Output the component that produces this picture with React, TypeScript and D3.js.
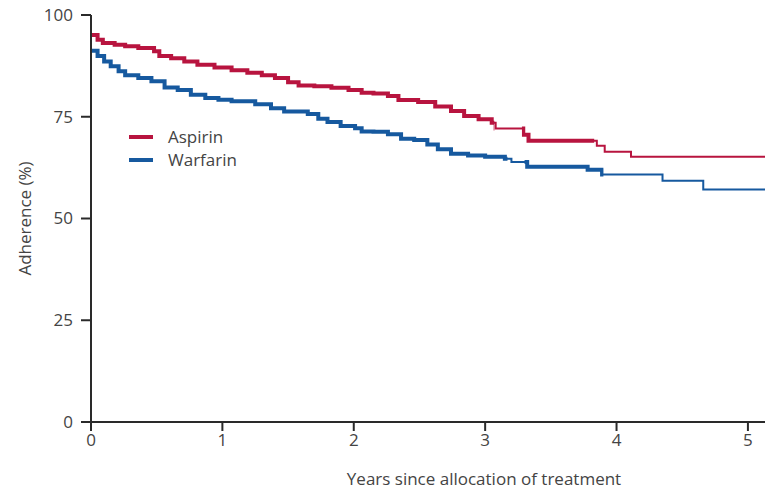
import React from "react";
import * as d3 from "d3";

// Kaplan–Meier style adherence curves (step-after), years vs %
const aspirinTimes = [0, 0.05, 0.09, 0.18, 0.26, 0.36, 0.48, 0.52, 0.61, 0.71, 0.81, 0.94, 1.07, 1.19, 1.3, 1.4, 1.5, 1.58, 1.7, 1.83, 1.96, 2.06, 2.15, 2.26, 2.34, 2.49, 2.62, 2.74, 2.84, 2.95, 3.05, 3.08, 3.29, 3.33, 3.85, 3.91, 4.11];
const aspirinValues = [95.1, 93.9, 93.1, 92.7, 92.3, 91.9, 91.1, 89.9, 89.4, 88.6, 87.8, 87.1, 86.4, 85.8, 85.2, 84.5, 83.5, 82.7, 82.5, 82.1, 81.6, 80.9, 80.7, 80.1, 79.1, 78.6, 77.5, 76.4, 75.2, 74.4, 73.5, 72.1, 70.6, 69.1, 67.9, 66.4, 65.2];

const warfarinTimes = [0, 0.05, 0.1, 0.15, 0.21, 0.26, 0.36, 0.46, 0.56, 0.66, 0.76, 0.87, 0.97, 1.07, 1.25, 1.37, 1.47, 1.65, 1.73, 1.8, 1.9, 2.01, 2.06, 2.15, 2.26, 2.36, 2.46, 2.56, 2.64, 2.74, 2.87, 3.0, 3.15, 3.2, 3.32, 3.78, 3.89, 4.35, 4.66];
const warfarinValues = [91.2, 89.9, 88.6, 87.4, 86.2, 85.2, 84.5, 83.7, 82.2, 81.6, 80.4, 79.6, 79.2, 78.8, 78.1, 77.1, 76.3, 75.7, 74.5, 73.7, 72.7, 72.2, 71.4, 71.3, 70.7, 69.6, 69.3, 68.2, 67.0, 65.9, 65.5, 65.2, 64.7, 63.9, 62.7, 62.0, 60.8, 59.3, 57.1];

const xTicks = [0, 1, 2, 3, 4, 5];
const yTicks = [0, 25, 50, 75, 100];
const seriesNames = ["Aspirin", "Warfarin"];

// Periods where censoring marks crowd the curve, drawn heavier
const aspirinDense: [number, number][] = [[0, 3.07], [3.28, 3.83]];
const warfarinDense: [number, number][] = [[0, 3.17], [3.3, 3.9]];

const RED = "#b8143f";
const BLUE = "#16599f";
const FONT = "'Open Sans', 'Noto Sans', sans-serif";

const W = 765;
const H = 491;
const X_MAX = 5.13;

export default function App() {
  const x = d3.scaleLinear().domain([0, X_MAX]).range([91, 765]);
  const y = d3.scaleLinear().domain([0, 100]).range([422, 15]);

  const line = d3
    .line<[number, number]>()
    .x((d) => x(d[0]))
    .y((d) => y(d[1]))
    .curve(d3.curveStepAfter);

  const build = (ts: number[], vs: number[]) => {
    const pts: [number, number][] = ts.map((t, i) => [t, vs[i]]);
    pts.push([X_MAX, vs[vs.length - 1]]);
    return line(pts) || "";
  };

  const series = [
    { name: seriesNames[0], color: RED, path: build(aspirinTimes, aspirinValues), dense: aspirinDense, id: "asp" },
    { name: seriesNames[1], color: BLUE, path: build(warfarinTimes, warfarinValues), dense: warfarinDense, id: "war" },
  ];

  const axisColor = "#2a2a2a";
  const textColor = "#444";
  const fs = 17;

  return (
    <svg
      width={W}
      height={H}
      style={{ position: "absolute", left: 0, top: 0, background: "#fff" }}
      fontFamily={FONT}
    >
      <defs>
        {series.map((s) => (
          <clipPath id={`dense-${s.id}`} key={s.id}>
            {s.dense.map(([a, b], i) => (
              <rect key={i} x={x(a)} y={0} width={x(b) - x(a)} height={H} />
            ))}
          </clipPath>
        ))}
      </defs>

      {/* curves */}
      {series.map((s) => (
        <g key={s.id}>
          <path d={s.path} fill="none" stroke={s.color} strokeWidth={2} />
          <path
            d={s.path}
            fill="none"
            stroke={s.color}
            strokeWidth={4}
            clipPath={`url(#dense-${s.id})`}
          />
        </g>
      ))}

      {/* y axis */}
      <line x1={x(0)} x2={x(0)} y1={y(100)} y2={y(0)} stroke={axisColor} strokeWidth={2} />
      {yTicks.map((t) => (
        <g key={t}>
          <line x1={x(0) - 10} x2={x(0)} y1={y(t)} y2={y(t)} stroke={axisColor} strokeWidth={2} />
          <text
            x={x(0) - 18}
            y={y(t)}
            dy="0.35em"
            textAnchor="end"
            fontSize={fs}
            fill={textColor}
          >
            {t}
          </text>
        </g>
      ))}

      {/* x axis */}
      <line x1={x(0) - 10} x2={W} y1={y(0)} y2={y(0)} stroke={axisColor} strokeWidth={2} />
      {xTicks.map((t) => (
        <g key={t}>
          <line x1={x(t)} x2={x(t)} y1={y(0)} y2={y(0) + 9} stroke={axisColor} strokeWidth={2} />
          <text x={x(t)} y={y(0) + 24} textAnchor="middle" fontSize={fs} fill={textColor}>
            {t}
          </text>
        </g>
      ))}

      {/* axis titles */}
      <text x={484} y={485} textAnchor="middle" fontSize={fs} fill={textColor}>
        Years since allocation of treatment
      </text>
      <text
        transform={`translate(31, ${y(50)}) rotate(-90)`}
        textAnchor="middle"
        fontSize={fs}
        fill={textColor}
      >
        Adherence (%)
      </text>

      {/* legend */}
      {series.map((s, i) => (
        <g key={s.id} transform={`translate(129, ${137 + i * 23})`}>
          <line x1={0} x2={24} y1={0} y2={0} stroke={s.color} strokeWidth={4} />
          <text x={39} y={0} dy="0.35em" fontSize={fs} fill={textColor}>
            {s.name}
          </text>
        </g>
      ))}
    </svg>
  );
}
